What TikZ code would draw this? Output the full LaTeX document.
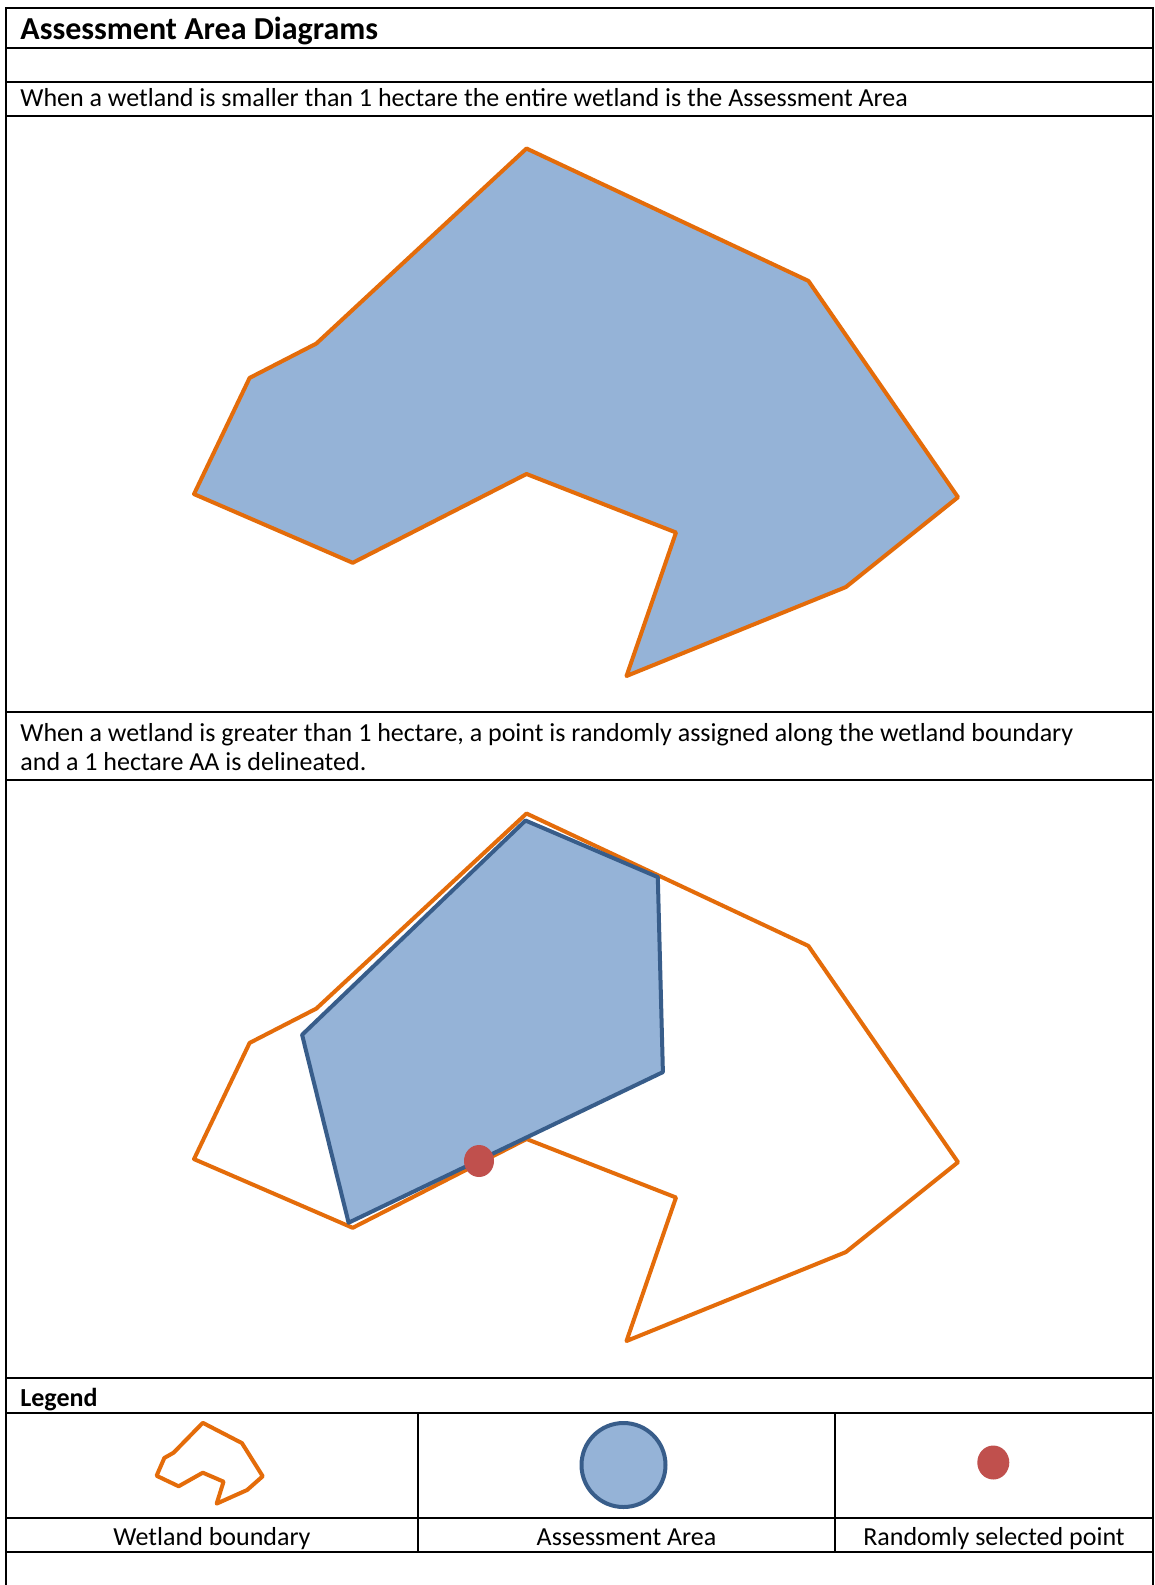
\documentclass[tikz,border=0pt]{standalone}
\usepackage{fontspec}
\setmainfont{Carlito}
\definecolor{wetorange}{HTML}{E46C0A}
\definecolor{aafill}{HTML}{95B3D7}
\definecolor{aaline}{HTML}{385D8A}
\definecolor{ptred}{HTML}{C0504D}
\tikzset{
  gridline/.style={line width=1pt, black},
  wetland/.style={line width=2pt, wetorange, line join=round},
  aarea/.style={line width=2pt, aaline, fill=aafill, line join=round},
  bodytext/.style={inner sep=0pt, font=\fontsize{13}{15}\selectfont},
  headtext/.style={inner sep=0pt, font=\fontsize{16}{19}\selectfont\bfseries},
}
\newcommand{\wetpath}{(526.5,148.5) -- (808.4,280.9) -- (958,497.2) -- (845.8,587.1) -- (626.5,676) -- (676,532.5) -- (526.5,474) -- (352.7,562.8) -- (194,494.1) -- (249.6,377.9) -- (316.3,343.6) -- cycle}
\begin{document}
\begin{tikzpicture}[x=0.5pt,y=-0.5pt]
\useasboundingbox (0,0) rectangle (1155,1585);
\fill[white] (0,0) rectangle (1155,1585);
% table lines
\draw[gridline] (6,1585) -- (6,8) -- (1153,8) -- (1153,1585);
\foreach \yy in {47.5,82,116,712,780,1378,1413,1518,1552}
  \draw[gridline] (6,\yy) -- (1153,\yy);
\draw[gridline] (418,1413) -- (418,1552);
\draw[gridline] (835,1413) -- (835,1552);
% texts
\node[headtext, anchor=base west] (title) at (20,39) {Assessment Area Diagrams};
\node[bodytext, anchor=base west] (t1) at (20,106) {When a wetland is smaller than 1 hectare the entire wetland is the Assessment Area};
\node[bodytext, anchor=base west] (t2a) at (20,741) {When a wetland is greater than 1 hectare, a point is randomly assigned along the wetland boundary};
\node[bodytext, anchor=base west] (t2b) at (20,770) {and a 1 hectare AA is delineated.};
\node[bodytext, font=\fontsize{13}{15}\selectfont\bfseries, anchor=base west] (leg) at (20,1406) {Legend};
\node[bodytext, anchor=base] (l1) at (212,1545) {Wetland boundary};
\node[bodytext, anchor=base] (l2) at (626.5,1545) {Assessment Area};
\node[bodytext, anchor=base] (l3) at (994,1545) {Randomly selected point};
% diagram 1
\draw[wetland, fill=aafill] \wetpath;
% diagram 2
\begin{scope}[shift={(0,665)}]
\draw[wetland] \wetpath;
\end{scope}
\draw[aarea] (525.5,820.5) -- (657.8,877.1) -- (662.9,1072.1) -- (348.6,1222.7) -- (302.1,1034.8) -- cycle;
\fill[ptred] (479,1161) ellipse [x radius=15, y radius=16];
% legend icons
\begin{scope}[shift={(156.6,1422.8)}, xscale=0.1389, yscale=0.1532, shift={(-194,-148.5)}]
\draw[wetland] \wetpath;
\end{scope}
\draw[aarea] (623.5,1465) circle [radius=42];
\fill[ptred] (993.3,1462.5) ellipse [x radius=16, y radius=17];
\end{tikzpicture}
\end{document}
